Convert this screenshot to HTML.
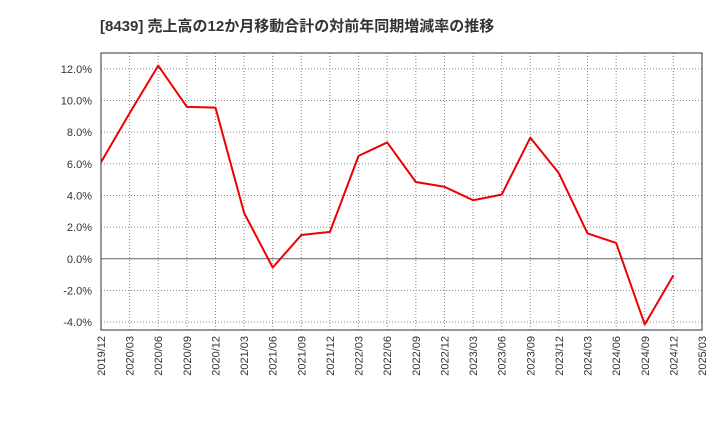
<!DOCTYPE html>
<html><head><meta charset="utf-8"><style>
html,body{margin:0;padding:0;background:#fff;}
svg text{font-family:"Liberation Sans","Noto Sans CJK JP",sans-serif;}
</style></head><body>
<svg id="chart" width="720" height="440" xmlns="http://www.w3.org/2000/svg">
<text x="100" y="31" font-size="15" font-weight="bold" fill="#333">[8439]  売上高の12か月移動合計の対前年同期増減率の推移</text>
<g id="grid"></g><g id="axes"></g><g id="series"></g>
</svg>
<script>
const categories=["2019/12","2020/03","2020/06","2020/09","2020/12","2021/03","2021/06","2021/09","2021/12","2022/03","2022/06","2022/09","2022/12","2023/03","2023/06","2023/09","2023/12","2024/03","2024/06","2024/09","2024/12","2025/03"];
const values=[6.1,9.2,12.2,9.6,9.55,2.9,-0.55,1.5,1.7,6.5,7.35,4.85,4.55,3.7,4.05,7.65,5.4,1.6,1.0,-4.15,-1.05,null];
const yTicks=[-4,-2,0,2,4,6,8,10,12];
const L=101,R=702,T=53,B=330;
const yMin=-4.5,yMax=13;
const x=i=>L+(R-L)*i/(categories.length-1);
const y=v=>B-(B-T)*(v-yMin)/(yMax-yMin);
const NS="http://www.w3.org/2000/svg";
const mk=(t,a,p)=>{const e=document.createElementNS(NS,t);for(const k in a)e.setAttribute(k,a[k]);p.appendChild(e);return e;};
const grid=document.getElementById('grid'),axes=document.getElementById('axes'),ser=document.getElementById('series');
yTicks.forEach(v=>{
 const l=mk('line',{x1:L,x2:R,y1:y(v),y2:y(v),stroke:v===0?'#666':'#888','stroke-width':1,'stroke-dasharray':v===0?'':'1,2'},grid);
 
 
 const t=mk('text',{x:92,y:y(v)+4,'text-anchor':'end','font-size':11,fill:'#333'},axes);
 t.textContent=v.toFixed(1)+'%';
 
 
});
categories.forEach((c,i)=>{
 if(i>0&&i<categories.length-1){
 const l=mk('line',{x1:x(i),x2:x(i),y1:T,y2:B,stroke:'#888','stroke-width':1,'stroke-dasharray':'1,2'},grid);
 
 }
 const t=mk('text',{x:0,y:0,'text-anchor':'end','font-size':11,fill:'#333',transform:`translate(${x(i)+4},${B+6}) rotate(-90)`},axes);
 t.textContent=c;
 
 
});
const fr=mk('rect',{x:L,y:T,width:R-L,height:B-T,fill:'none',stroke:'#333','stroke-width':1},axes);


let d='';values.forEach((v,i)=>{if(v!==null)d+=(d?'L':'M')+x(i)+','+y(v);});
const p=mk('path',{d:d,fill:'none',stroke:'#e00','stroke-width':2,'stroke-linejoin':'round'},ser);


</script>
</body></html>
